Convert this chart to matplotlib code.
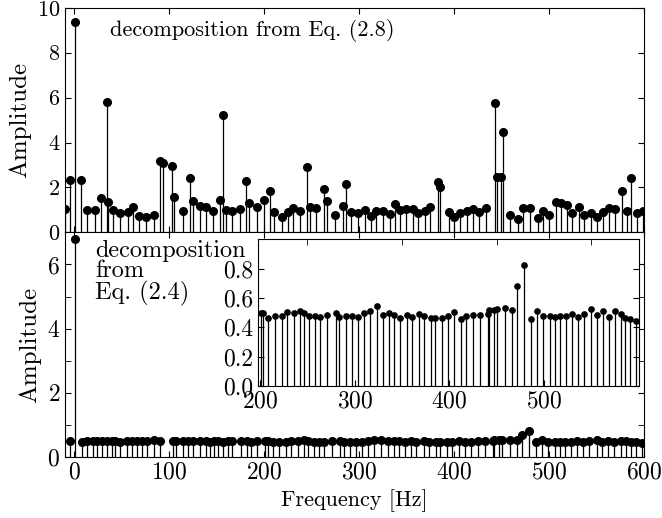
import numpy as np
import matplotlib.pyplot as plt
from matplotlib.ticker import MultipleLocator

# fonte parecida com a do LaTeX
plt.rcParams['font.family'] = 'cmr10'
plt.rcParams['mathtext.fontset'] = 'cm'
plt.rcParams['axes.formatter.use_mathtext'] = True
plt.rcParams['font.size'] = 16

# espectro da decomposicao da Eq. (2.8) (painel de cima)
freq_a = [-10, -4.5, 1, 7.4, 13, 21.4, 28.4, 34.4, 35.8, 40.4, 48.4, 56.1, 61.4, 67.7,
          75, 83.8, 90.1, 93.6, 102.4, 105.2, 114, 121.3, 124.5, 132.2, 138.2, 145.5,
          153.5, 156.4, 159.2, 165.5, 174.6, 180.5, 184, 192.4, 200.2, 205.5, 210.7,
          218.4, 225, 230.3, 238, 245, 248.2, 254.9, 262.6, 265.7, 274.1, 282.9, 285.7,
          291.7, 298.6, 305.7, 312.3, 318, 325, 332, 338, 343.2, 349.5, 356.9, 362.1,
          369.5, 375, 382.7, 385.3, 394, 400.3, 406.3, 413.3, 419.6, 426.6, 434, 442.7,
          445, 449, 451.8, 459.2, 467.6, 472.9, 479.9, 487.9, 493.9, 499.5, 506.8,
          512.5, 518.4, 524, 531.7, 536.3, 543.6, 550.7, 557, 563.3, 569.6, 576.2,
          581.9, 586.4, 592, 599]
amp_a = [1.03, 2.33, 9.36, 2.33, 1.0, 1.0, 1.52, 5.79, 1.37, 1.0, 0.85, 0.91, 1.15, 0.73,
         0.67, 0.78, 3.17, 3.08, 2.96, 1.59, 0.94, 2.41, 1.41, 1.18, 1.15, 0.97,
         1.44, 5.23, 1.0, 0.94, 1.03, 2.29, 1.3, 1.12, 1.44, 1.83, 0.9,
         0.67, 0.9, 1.07, 0.94, 2.9, 1.15, 1.07, 1.95, 1.38, 0.76, 1.18, 2.16,
         0.9, 0.85, 1.0, 0.73, 0.97, 0.97, 0.84, 1.26, 1.0, 1.03, 1.03, 0.85,
         0.94, 1.12, 2.26, 2.04, 0.9, 0.7, 0.85, 0.97, 1.03, 0.9, 1.07, 5.78,
         2.48, 2.48, 4.49, 0.78, 0.6, 1.07, 1.07, 0.63, 0.97, 0.78, 1.37,
         1.3, 1.24, 0.88, 1.12, 0.76, 0.85, 0.7, 0.9, 1.09, 1.06, 1.86,
         0.97, 2.44, 0.85, 0.94]

# espectro da decomposicao da Eq. (2.4) (painel de baixo e detalhe)
freq_b = [-4.5, 0.5, 7.8, 13, 19.3, 24.2, 28.8, 34, 39.3, 42.8, 48, 55.1, 60.3, 65.6,
          70.9, 76.1, 83.8, 90.1, 104.1, 106.9, 114.6, 119.9, 125.1, 132.2, 138.2,
          142.7, 146.9, 151.4, 156.7, 161.9, 165.5, 176, 181.3, 186.5, 191.8,
          200.7, 203.5, 208.8, 215.8, 222.9, 228.1, 235.9, 242.2, 246.4, 252, 258,
          263.3, 271, 280.2, 283.7, 290.7, 297, 303.4, 309.7, 316, 323.1, 330.1,
          336.4, 341.4, 347.7, 354.7, 360, 368, 373, 380.7, 384.6, 392, 398,
          404.6, 411.7, 418, 425, 432.1, 440.9, 442, 447.2, 450.7, 458.4, 466.1,
          471.8, 478.5, 486.6, 492.5, 498.8, 505.9, 511.2, 517.2, 522.8, 529.8,
          535.8, 542.1, 549.9, 555.8, 562.2, 568.5, 575.2, 580.8, 585.7, 591, 597.4]
amp_b = [0.5, 6.8, 0.48, 0.49, 0.5, 0.51, 0.5, 0.51, 0.5, 0.49, 0.48, 0.49, 0.5, 0.49,
         0.49, 0.5, 0.53, 0.49, 0.51, 0.5, 0.49, 0.5, 0.49, 0.5, 0.49,
         0.48, 0.49, 0.5, 0.48, 0.49, 0.5, 0.5, 0.49, 0.48, 0.49,
         0.495, 0.495, 0.463, 0.479, 0.479, 0.507, 0.495, 0.514, 0.495, 0.479, 0.479,
         0.473, 0.485, 0.495, 0.473, 0.479, 0.479, 0.473, 0.495, 0.514, 0.543, 0.485,
         0.495, 0.485, 0.461, 0.485, 0.473, 0.49, 0.479, 0.463, 0.463, 0.461, 0.479,
         0.505, 0.457, 0.477, 0.486, 0.484, 0.491, 0.521, 0.518, 0.523, 0.532, 0.518,
         0.683, 0.822, 0.457, 0.514, 0.475, 0.479, 0.47, 0.479, 0.475, 0.491,
         0.47, 0.493, 0.525, 0.481, 0.509, 0.473, 0.509, 0.491, 0.463, 0.454, 0.445]

fig = plt.figure(figsize=(6.62, 5.18), dpi=100)
ax1 = fig.add_axes([0.098, 0.5514, 0.875, 0.4336])
ax2 = fig.add_axes([0.098, 0.1178, 0.875, 0.4336])

# painel de cima
m, s, b = ax1.stem(freq_a, amp_a, linefmt='k-', markerfmt='ko', basefmt=' ')
m.set_markersize(5.5)
s.set_linewidth(0.9)
ax1.set_xlim(-10, 600)
ax1.set_ylim(0, 10)
ax1.set_ylabel('Amplitude', fontsize=18)
ax1.set_xticklabels([])
ax1.text(0.078, 0.9, 'decomposition from Eq. (2.8)', transform=ax1.transAxes,
         va='center', ha='left')

# painel de baixo
m, s, b = ax2.stem(freq_b, amp_b, linefmt='k-', markerfmt='ko', basefmt=' ')
m.set_markersize(5.5)
s.set_linewidth(0.9)
ax2.set_xlim(-10, 600)
ax2.set_ylim(0, 7)
ax2.set_yticks([0, 2, 4, 6])
ax2.yaxis.set_minor_locator(MultipleLocator(1))
ax2.set_ylabel('Amplitude', fontsize=18)
ax2.set_xlabel('Frequency [Hz]')
ax2.text(0.052, 0.968, 'decomposition\nfrom\nEq. (2.4)', transform=ax2.transAxes,
         va='top', ha='left', linespacing=0.92, fontsize=17.5)

for ax in (ax1, ax2):
    ax.xaxis.set_major_locator(MultipleLocator(100))
    ax.tick_params(which='both', direction='in', top=True, right=True, length=4)
ax2.tick_params(labelsize=17)

# detalhe entre 200 e 600 Hz
ax3 = fig.add_axes([0.390, 0.255, 0.575, 0.283])
m, s, b = ax3.stem(freq_b, amp_b, linefmt='k-', markerfmt='ko', basefmt=' ')
m.set_markersize(3.8)
s.set_linewidth(0.9)
ax3.set_xlim(198, 600)
ax3.set_ylim(0, 1.0)
ax3.set_xticks([200, 300, 400, 500])
ax3.set_yticks([0.0, 0.2, 0.4, 0.6, 0.8])
ax3.set_yticklabels(['0.0', '0.2', '0.4', '0.6', '0.8'])
ax3.xaxis.set_minor_locator(MultipleLocator(50))
ax3.tick_params(which='both', direction='in', right=True, length=4, labelsize=17)
ax3.tick_params(which='major', top=False)
ax3.tick_params(which='minor', top=True, bottom=False)

plt.savefig('out.png')
